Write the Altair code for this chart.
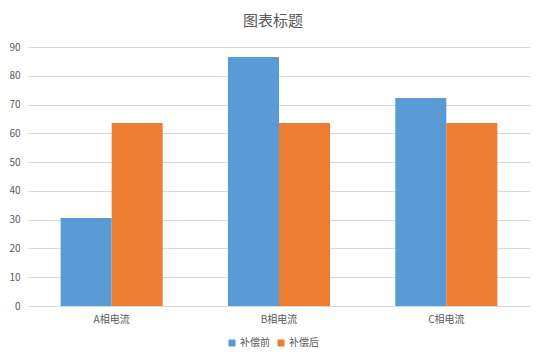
import altair as alt
import pandas as pd

categories = ["A相电流", "B相电流", "C相电流"]
series = ["补偿前", "补偿后"]
before = [30.6, 86.5, 72.3]
after = [63.6, 63.6, 63.6]

rows = []
for c, b, a in zip(categories, before, after):
    rows.append({"cat": c, "series": series[0], "value": b})
    rows.append({"cat": c, "series": series[1], "value": a})
df = pd.DataFrame(rows)

FONT = "Noto Sans CJK SC"
TXT = "#595959"

chart = alt.Chart(df).mark_bar().encode(
    x=alt.X("cat:N", sort=categories, title=None,
            scale=alt.Scale(paddingInner=0.39, paddingOuter=0.195),
            axis=alt.Axis(labelAngle=0, ticks=False, domainColor="#D9D9D9",
                          labelColor=TXT, labelFontSize=10, labelFont=FONT, labelPadding=8)),
    xOffset=alt.XOffset("series:N", sort=series, scale=alt.Scale(paddingInner=0, paddingOuter=0)),
    y=alt.Y("value:Q", title=None,
            scale=alt.Scale(domain=[0, 90], nice=False),
            axis=alt.Axis(values=list(range(0, 91, 10)), ticks=False, domain=False,
                          gridColor="#D9D9D9", labelColor=TXT, labelFontSize=10,
                          labelFont=FONT, labelPadding=8)),
    color=alt.Color("series:N", sort=series,
                    scale=alt.Scale(domain=series, range=["#5B9BD5", "#ED7D31"]),
                    legend=alt.Legend(title=None, orient="none", direction="horizontal",
                                      legendX=199, legendY=291, symbolType="square",
                                      symbolSize=49, labelFontSize=10, labelFont=FONT,
                                      labelColor=TXT, columnPadding=6, labelOffset=3,
                                      symbolStrokeWidth=0)),
).properties(
    width=502, height=259,
    title=alt.TitleParams("图表标题", fontSize=15, font=FONT, color=TXT,
                          fontWeight="normal", offset=13, dx=-6),
    autosize=alt.AutoSizeParams(type="none"),
    padding={"left": 20, "top": 39, "right": 8, "bottom": 50},
).configure_view(stroke=None)

chart.save("out.html", embed_options={"renderer": "svg", "actions": False})
